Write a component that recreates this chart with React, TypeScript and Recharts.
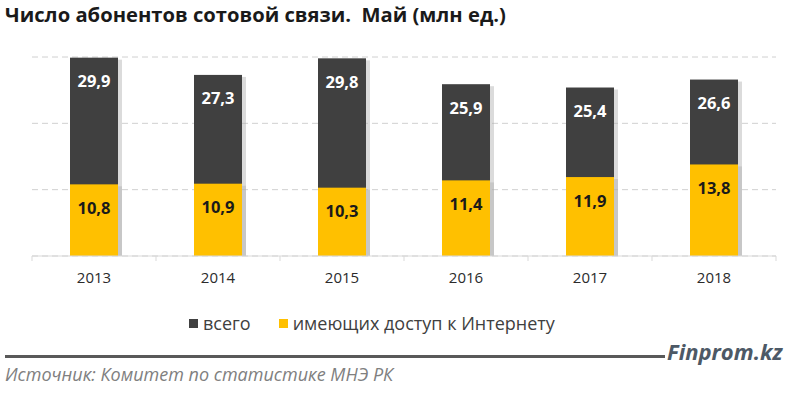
import { Bar, BarChart, CartesianGrid, LabelList, Legend, XAxis, YAxis } from "recharts"

const years = ["2013", "2014", "2015", "2016", "2017", "2018"]
const totalSubscribers = [29.9, 27.3, 29.8, 25.9, 25.4, 26.6]
const internetSubscribers = [10.8, 10.9, 10.3, 11.4, 11.9, 13.8]
const yTicks = [0, 10, 20, 30]

const data = years.map((year, i) => ({
  year,
  total: totalSubscribers[i],
  internet: internetSubscribers[i],
}))

const FONT = "'Open Sans', 'Noto Sans', sans-serif"
const DARK = "#404040"
const YELLOW = "#FFC000"
const BAR_SIZE = 48

function formatValue(value: number): string {
  return value.toFixed(1).replace(".", ",")
}

function ShadowBar(props: any) {
  const { x, y, width, height, fill } = props
  if (height <= 0) {
    return null
  }
  return (
    <g>
      <rect x={x + 2} y={y + 2} width={width + 2} height={height - 2} fill="#b0b0b0" opacity={0.45} />
      <rect x={x} y={y} width={width} height={height} fill={fill} />
    </g>
  )
}

function makeValueLabel(color: string) {
  return function ValueLabel(props: any) {
    const { x, y, width, value } = props
    return (
      <text
        x={x + width / 2}
        y={y + 23}
        textAnchor="middle"
        dominantBaseline="central"
        fill={color}
        fontFamily={FONT}
        fontWeight={700}
        fontSize={16.5}
      >
        {formatValue(value)}
      </text>
    )
  }
}

function YearTick(props: any) {
  const { x, y, payload, index } = props
  const half = payload?.offset ?? 62
  return (
    <g>
      <line x1={x - half} y1={y} x2={x - half} y2={y + 5} stroke="#d9d9d9" />
      {index === years.length - 1 && (
        <line x1={x + half} y1={y} x2={x + half} y2={y + 5} stroke="#d9d9d9" />
      )}
      <text
        x={x}
        y={y + 21}
        textAnchor="middle"
        dominantBaseline="central"
        fill="#2b2b2b"
        fontFamily={FONT}
        fontSize={15}
      >
        {payload.value}
      </text>
    </g>
  )
}

function LegendContent(props: any) {
  const items = props.payload ?? []
  return (
    <div style={{ display: "flex", alignItems: "center", fontFamily: FONT, fontSize: 18, color: DARK }}>
      {items.map((item: any) => (
        <div key={item.value} style={{ display: "flex", alignItems: "center", marginRight: 28 }}>
          <span style={{ width: 9, height: 9, background: item.color, marginRight: 5 }} />
          <span>{item.value}</span>
        </div>
      ))}
    </div>
  )
}

export default function App() {
  return (
    <div style={{ position: "absolute", left: 0, top: 0, width: 800, height: 396, background: "#fff", overflow: "hidden" }}>
      <div
        style={{
          position: "absolute",
          left: 5,
          top: 0,
          fontFamily: FONT,
          fontWeight: 700,
          fontSize: 20.2,
          color: "#1a1a1a",
          whiteSpace: "pre",
        }}
      >
        {"Число абонентов сотовой связи.  Май (млн ед.)"}
      </div>
      <BarChart
        width={800}
        height={396}
        data={data}
        margin={{ top: 57, right: 24, left: 32, bottom: 110 }}
        barGap={-BAR_SIZE}
        barSize={BAR_SIZE}
      >
        <CartesianGrid vertical={false} stroke="#d0d0d0" strokeDasharray="6 4" />
        <YAxis hide domain={[0, 30]} ticks={yTicks} />
        <XAxis
          dataKey="year"
          height={30}
          axisLine={{ stroke: "#d9d9d9" }}
          tickLine={false}
          tickSize={0}
          tickMargin={0}
          tick={<YearTick />}
          interval={0}
        />
        <Legend
          verticalAlign="middle"
          align="center"
          content={<LegendContent />}
          wrapperStyle={{ top: 311, left: 189, width: 500 }}
        />
        <Bar dataKey="total" name="всего" fill={DARK} shape={<ShadowBar />} isAnimationActive={false}>
          <LabelList dataKey="total" content={makeValueLabel("#ffffff")} />
        </Bar>
        <Bar dataKey="internet" name="имеющих доступ к Интернету" fill={YELLOW} shape={<ShadowBar />} isAnimationActive={false}>
          <LabelList dataKey="internet" content={makeValueLabel("#1a1a1a")} />
        </Bar>
      </BarChart>
      <div style={{ position: "absolute", left: 5, top: 355, width: 660, height: 3, background: "#595959" }} />
      <div
        style={{
          position: "absolute",
          left: 667,
          top: 336,
          fontFamily: FONT,
          fontWeight: 700,
          fontStyle: "italic",
          fontSize: 22,
          color: "#4d5966",
        }}
      >
        Finprom.kz
      </div>
      <div
        style={{
          position: "absolute",
          left: 5,
          top: 362,
          fontFamily: FONT,
          fontStyle: "italic",
          fontSize: 18,
          color: "#808080",
        }}
      >
        Источник: Комитет по статистике МНЭ РК
      </div>
    </div>
  )
}
